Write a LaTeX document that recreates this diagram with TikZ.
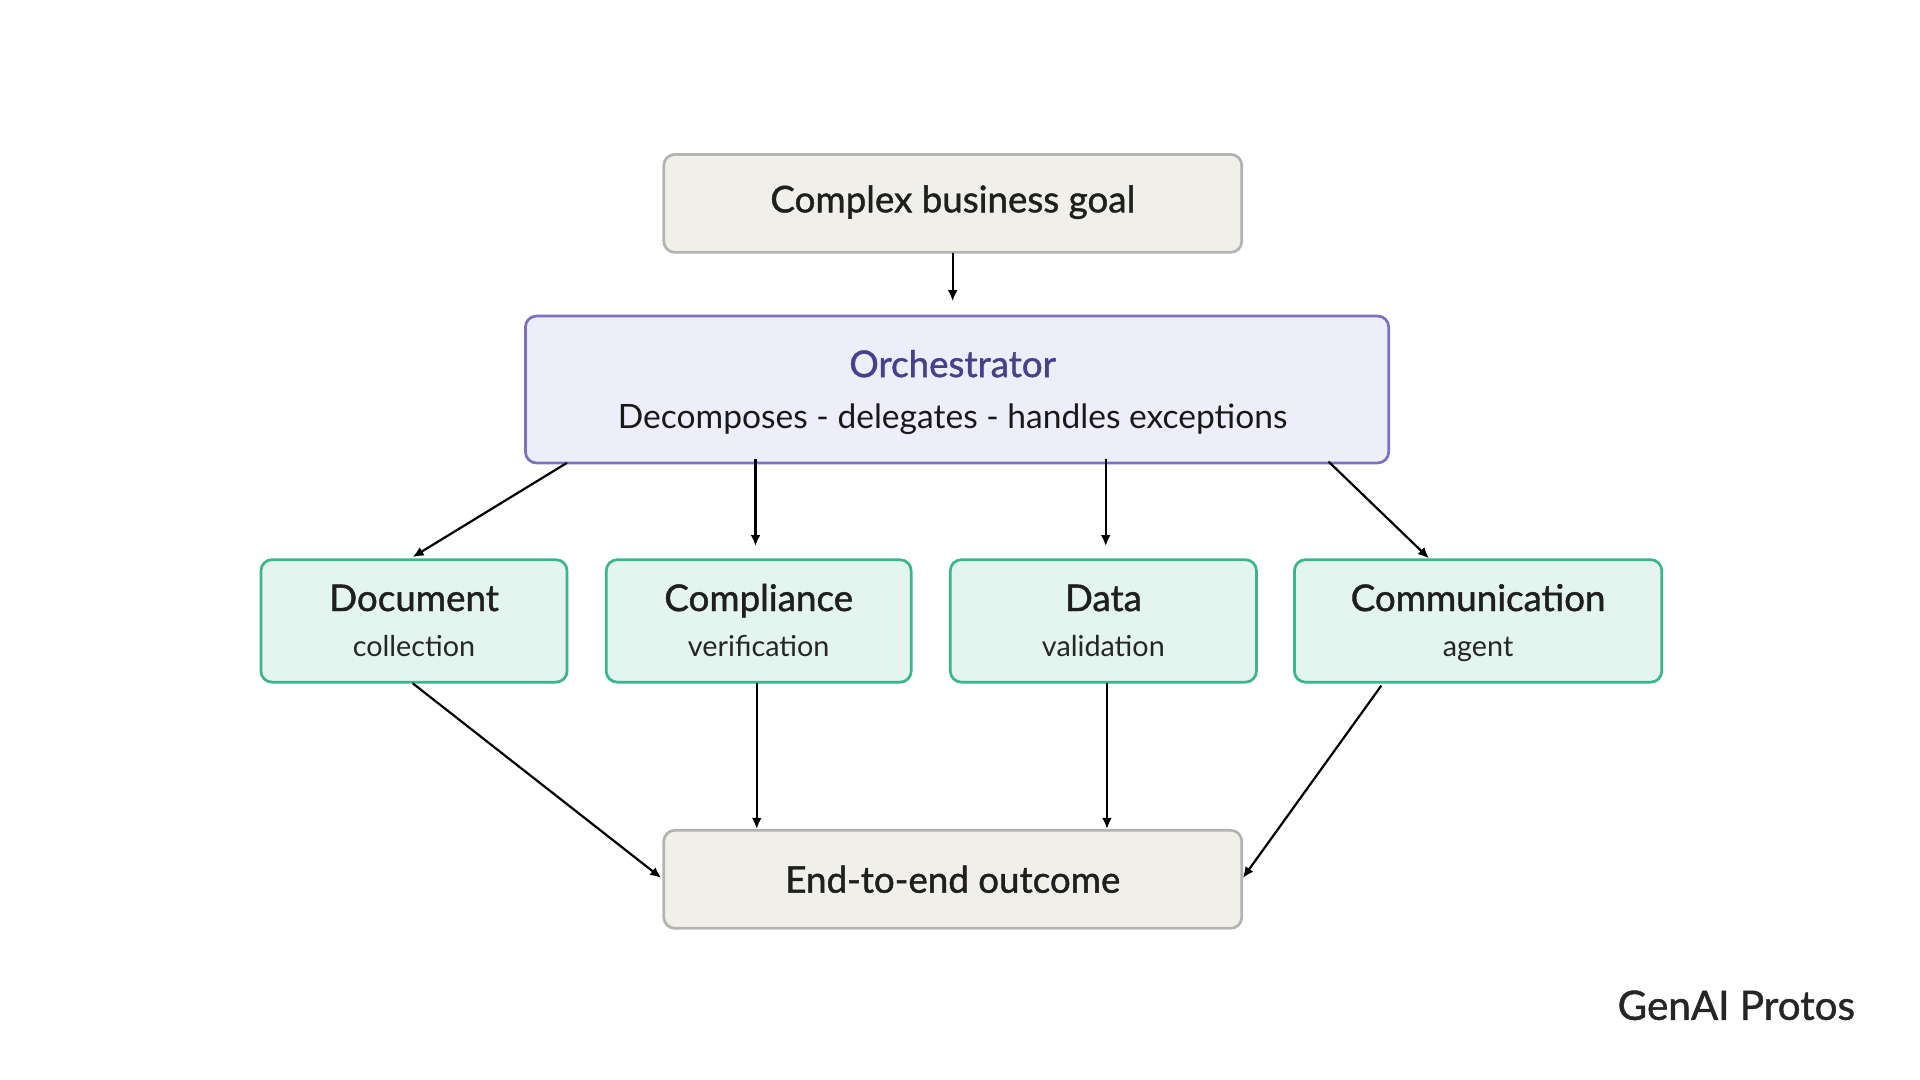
\documentclass[tikz,border=0pt]{standalone}
\usepackage{fontspec}
\setmainfont{Lato}
\newfontfamily\medfont{Lato}[FakeBold=1.2]
\usetikzlibrary{arrows.meta}
\begin{document}
\begin{tikzpicture}[x=1pt,y=-1pt,
 box/.style={draw, rounded corners=9pt, line width=2.2pt, anchor=north west, inner sep=0pt},
 arr/.style={-{Latex[length=9pt,width=8pt]}, line width=1.8pt, black}]
\useasboundingbox (0,0) rectangle (1568,882);
\definecolor{gfill}{HTML}{F0EFE9}\definecolor{gdraw}{HTML}{B3B3B0}
\definecolor{ofill}{HTML}{EEEEFB}\definecolor{odraw}{HTML}{7B70C4}\definecolor{otext}{HTML}{4A3F8A}
\definecolor{afill}{HTML}{E3F5EE}\definecolor{adraw}{HTML}{3BB58A}
\tikzset{grey/.style={box, fill=gfill,draw=gdraw}, agent/.style={box, fill=afill,draw=adraw},
 ttl/.style={font=\medfont\fontsize{30}{34}\selectfont, text=black!88}}
\node[grey, minimum width=472pt, minimum height=80pt] (goal) at (541,125) {};
\node[ttl] (goalt) at ([yshift=1pt]goal.center) {Complex business goal};
\node[box, fill=ofill, draw=odraw, minimum width=705pt, minimum height=120pt] (orch) at (428,257) {};
\node[ttl, text=otext] (orcht) at (778,297) {Orchestrator};
\node[font=\fontsize{27.4}{32}\selectfont, text=black!90] (orchs) at (778,342) {Decomposes - delegates - handles exceptions};
\foreach \n/\x/\w/\t/\s in {a1/212/250/Document/collection, a2/494/249/Compliance/verification, a3/775/250/Data/validation, a4/1056/300/Communication/agent}{
 \node[agent, minimum width=\w pt, minimum height=100pt] (\n) at (\x,456) {};
 \node[ttl, anchor=base] (\n t) at ([yshift=-43pt]\n.north) {\t};
 \node[font=\fontsize{23.5}{26}\selectfont, text=black!85, anchor=base] (\n s) at ([yshift=-80pt]\n.north) {\s};
}
\node[grey, minimum width=472pt, minimum height=80pt] (end) at (541,677) {};
\node[ttl] (endt) at (end.center) {End-to-end outcome};
\node[font=\medfont\fontsize{33}{36}\selectfont, text=black!85] (logo) at (1418,821) {GenAI Protos};
\coordinate (g1) at (778,207); \coordinate (o0) at (778,246);
\coordinate (o1) at (463,378); \coordinate (t1) at (337,455);
\coordinate (o2) at (617,375); \coordinate (t2) at (617,446);
\coordinate (o3) at (903,375); \coordinate (t3) at (903,446);
\coordinate (o4) at (1085,377); \coordinate (t4) at (1167,456);
\coordinate (b1) at (337,558); \coordinate (e1) at (540,717);
\coordinate (b2) at (618,558); \coordinate (e2) at (618,677);
\coordinate (b3) at (904,558); \coordinate (e3) at (904,677);
\coordinate (b4) at (1128,560); \coordinate (e4) at (1015,717);
\draw[arr] (g1) -- (o0);
\foreach \i in {1,...,4}{\draw[arr] (o\i) -- (t\i); \draw[arr] (b\i) -- (e\i);}
\end{tikzpicture}
\end{document}
